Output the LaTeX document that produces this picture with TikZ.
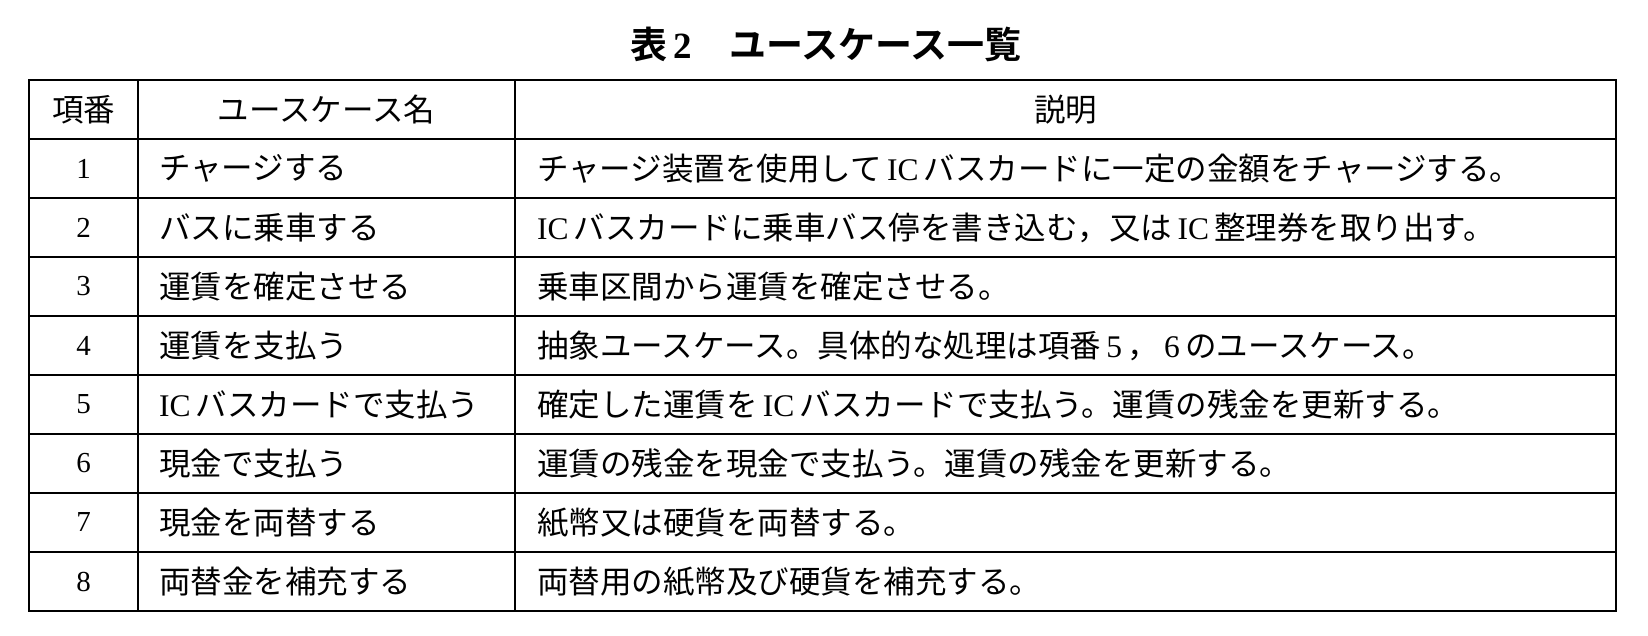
\documentclass[tikz,border=0pt]{standalone}
\usepackage{fontspec}
\setmainfont{Liberation Serif}
\newfontfamily\cjk{Noto Sans CJK JP}
\newfontfamily\cjkbold{Noto Sans CJK JP Bold}
\newcommand{\icx}[1]{\,{\rmfamily #1}\,}
\begin{document}
\begin{tikzpicture}[x=1pt,y=-1pt,
  cell/.style={anchor=west,inner sep=0pt,font=\cjk\fontsize{31.5}{33}\selectfont},
  num/.style={anchor=center,inner sep=0pt,font=\fontsize{29}{31}\selectfont},
  grid/.style={line width=2pt,black}]
\useasboundingbox (0,0) rectangle (1648,636);
\node[inner sep=0pt,font=\cjkbold\fontsize{37}{39}\selectfont] (title) at (826,44) {表{\rmfamily\bfseries\,2}　ユースケース一覧};
\draw[grid] (29,80) rectangle (1616,611);
\foreach \y in {139,198,257,316,375,434,493,552} \draw[grid] (29,\y) -- (1616,\y);
\draw[grid] (138,80) -- (138,611);
\draw[grid] (515,80) -- (515,611);
\node[cell,anchor=center] (h1) at (83.5,109.5) {項番};
\node[cell,anchor=center] (h2) at (326.5,109.5) {ユースケース名};
\node[cell,anchor=center] (h3) at (1065.5,109.5) {説明};
\foreach \i/\n/\d [count=\k] in {
1/チャージする/チャージ装置を使用して\icx{IC}バスカードに一定の金額をチャージする。,
2/バスに乗車する/{\rmfamily IC}\,バスカードに乗車バス停を書き込む，又は\icx{IC}整理券を取り出す。,
3/運賃を確定させる/乗車区間から運賃を確定させる。,
4/運賃を支払う/抽象ユースケース。具体的な処理は項番\icx{5}，\icx{6}のユースケース。,
5/{\rmfamily IC}\,バスカードで支払う/確定した運賃を\icx{IC}バスカードで支払う。運賃の残金を更新する。,
6/現金で支払う/運賃の残金を現金で支払う。運賃の残金を更新する。,
7/現金を両替する/紙幣又は硬貨を両替する。,
8/両替金を補充する/両替用の紙幣及び硬貨を補充する。}{
  \pgfmathsetmacro\yy{139+59*\k-29.5}
  \node[num] (n\k) at (83.5,\yy) {\i};
  \node[cell] (u\k) at (159,\yy) {\n};
  \node[cell] (d\k) at (537,\yy) {\d};
}
\end{tikzpicture}
\end{document}
